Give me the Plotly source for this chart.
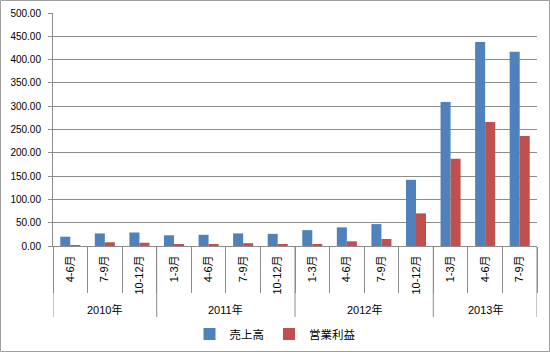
import plotly.graph_objects as go

years = ["2010年"] * 3 + ["2011年"] * 4 + ["2012年"] * 4 + ["2013年"] * 3
quarters = ["4-6月", "7-9月", "10-12月",
            "1-3月", "4-6月", "7-9月", "10-12月",
            "1-3月", "4-6月", "7-9月", "10-12月",
            "1-3月", "4-6月", "7-9月"]
sales = [20, 27, 29, 23, 24, 27, 26, 34, 40, 47, 142, 309, 438, 417]
profit = [2, 8, 7, 3, 3, 6, 3, 3, 10, 15, 70, 187, 266, 236]

W, H = 550, 352
ml, mr, mt, mb = 53, 13, 13, 106
pw = W - ml - mr
ph = H - mt - mb

keys = [f"{y} {q}" for y, q in zip(years, quarters)]

fig = go.Figure()
fig.add_trace(go.Bar(name="売上高", x=keys, y=sales,
                     marker=dict(color="#4F81BD", line=dict(width=0))))
fig.add_trace(go.Bar(name="営業利益", x=keys, y=profit,
                     marker=dict(color="#C0504D", line=dict(width=0))))

grid = "#8C8C8C"

# outer frame of the chart
fig.add_shape(type="rect", xref="paper", yref="paper",
              x0=-(ml - 0.5) / pw, x1=1 + (mr - 0.5) / pw,
              y0=-(mb - 0.5) / ph, y1=1 + (mt - 0.5) / ph,
              line=dict(color="#A0A0A0", width=1), layer="below")

# year groups: dividers and labels
groups = []
for i, y in enumerate(years):
    if not groups or groups[-1][0] != y:
        groups.append([y, i, i])
    else:
        groups[-1][2] = i

div_bottom = -71 / ph
label_y = -63 / ph
bounds = set()
for name, s, e in groups:
    bounds.add(s - 0.5)
    bounds.add(e + 0.5)
    fig.add_annotation(x=(s + e) / 2, xref="x", y=label_y, yref="paper",
                       text=name, showarrow=False, yanchor="middle",
                       font=dict(size=11))
for b in sorted(bounds):
    fig.add_shape(type="line", xref="x", yref="paper", x0=b, x1=b,
                  y0=0, y1=div_bottom, line=dict(color=grid, width=1))

fig.update_layout(
    width=W, height=H,
    margin=dict(l=ml, r=mr, t=mt, b=mb),
    paper_bgcolor="white", plot_bgcolor="white",
    barmode="group", bargap=0.42, bargroupgap=0,
    font=dict(family="Arial, 'Liberation Sans', 'Noto Sans CJK JP', sans-serif", size=10, color="#000000"),
    showlegend=True,
    legend=dict(orientation="h", x=0.5, xref="container", xanchor="center",
                y=1 - 334 / H, yref="container", yanchor="middle",
                font=dict(size=11.5), itemwidth=30, traceorder="normal"),
    yaxis=dict(range=[0, 500], dtick=50, tickformat=".2f", automargin=False,
               showgrid=True, gridcolor=grid, gridwidth=1,
               showline=True, linecolor=grid, linewidth=1,
               ticks="outside", ticklen=4, tickcolor=grid,
               ticklabelstandoff=5,
               zeroline=False, tickfont=dict(size=10)),
    xaxis=dict(type="category", automargin=False, range=[-0.5, len(keys) - 0.5],
               tickmode="array", tickvals=keys, ticktext=quarters,
               tickson="boundaries", ticklabelstandoff=4,
               showline=True, linecolor=grid, linewidth=1,
               ticks="outside", ticklen=46, tickcolor=grid,
               tickangle=-90, tickfont=dict(size=11)),
)

fig.write_html("out.html")
